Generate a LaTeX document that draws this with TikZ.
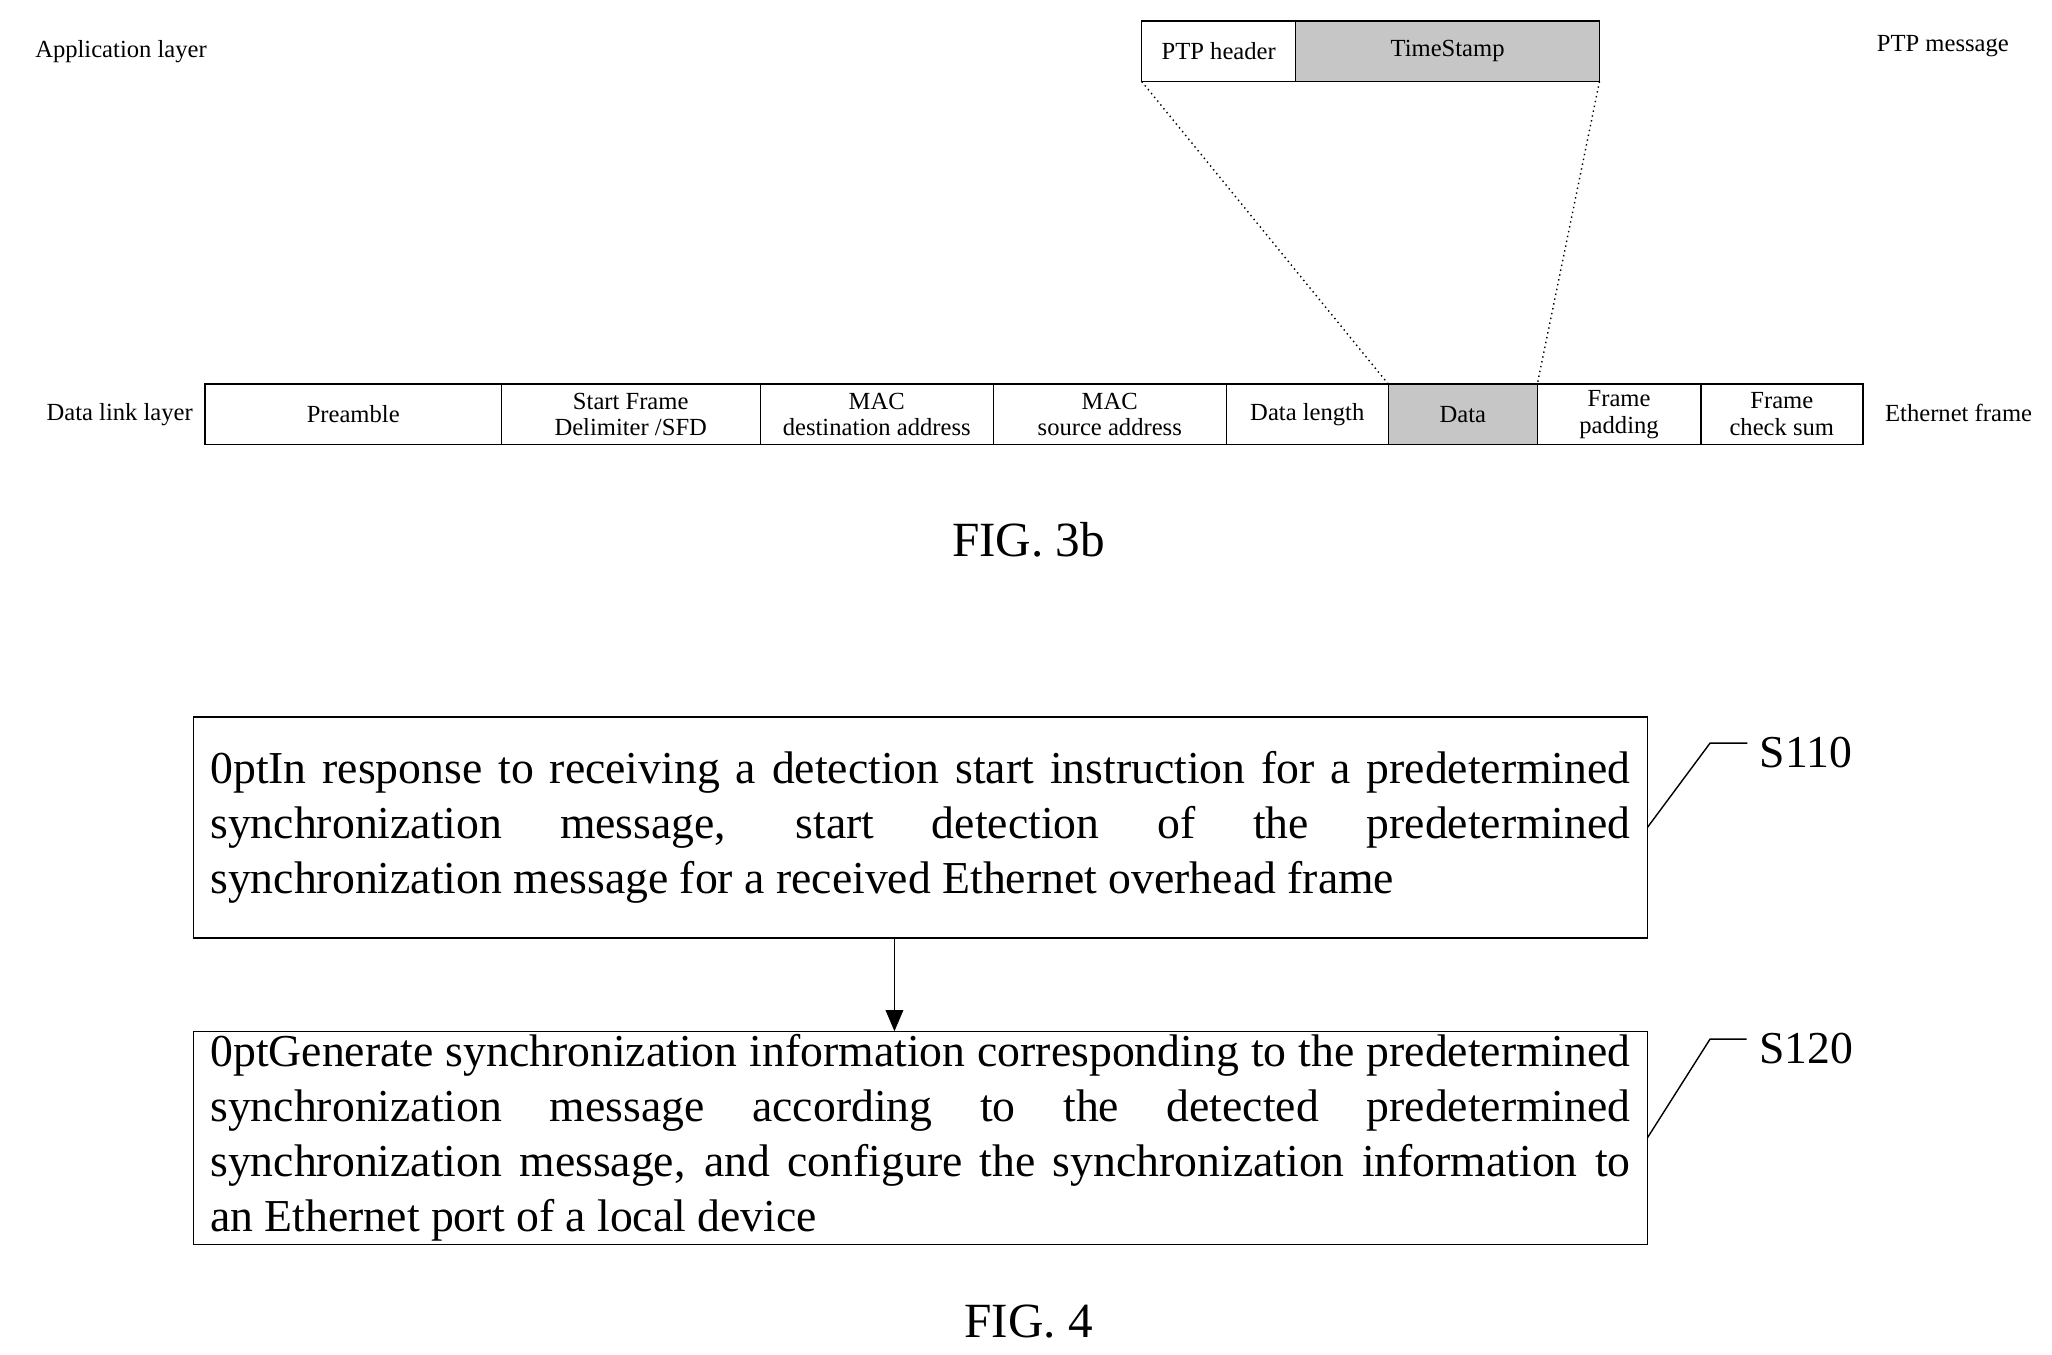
\documentclass[tikz,border=0pt]{standalone}
\usepackage{fontspec}
\setmainfont{Liberation Serif}
\usetikzlibrary{positioning,arrows.meta}
\begin{document}
\begin{tikzpicture}[x=0.01315cm,y=-0.01315cm]
    \tikzstyle{field} = [rectangle, draw, inner sep=0pt, outer sep=0pt,
    minimum height=0.605cm, align=center,
    font=\fontsize{7}{7.6}\selectfont]
    \tikzstyle{shaded} = [field, fill=gray!45]
    \tikzstyle{tag} = [font=\fontsize{7}{8}\selectfont]
    \tikzstyle{stepbox} = [rectangle, draw, inner sep=0pt, outer sep=0pt,
    minimum width=14.54cm, text width=14.2cm, align=justify,
    font=\fontsize{13}{15.6}\selectfont\hyphenpenalty=10000]
    \tikzstyle{line} = [draw, -{Triangle[length=6pt,width=5pt]}]

    \useasboundingbox (0,0) rectangle (1560,1030);

    % application layer
    \node[tag] (app) at (92,39) {Application layer};
    \node[field, anchor=north west, minimum width=1.539cm] (hdr) at (868,16) {PTP header};
    \node[shaded, right=0pt of hdr, minimum width=3.038cm] (ts) {TimeStamp};
    \node[tag] (msg) at (1477,35) {PTP message};

    % data link layer
    \node[tag] (dll) at (91,315) {Data link layer};
    \node[field, anchor=north west, minimum width=2.96cm] (pre) at (156,292) {Preamble};
    \node[field, right=0pt of pre, minimum width=2.59cm] (sfd) {Start Frame\\Delimiter /SFD};
    \node[field, right=0pt of sfd, minimum width=2.33cm] (dst) {MAC\\destination address};
    \node[field, right=0pt of dst, minimum width=2.33cm] (src) {MAC\\source address};
    \node[field, right=0pt of src, minimum width=1.62cm] (len) {Data length};
    \node[shaded, right=0pt of len, minimum width=1.49cm] (data) {Data};
    \node[field, right=0pt of data, minimum width=1.635cm] (pad) {Frame\\padding};
    \node[field, right=0pt of pad, minimum width=1.62cm] (fcs) {Frame\\check sum};
    \node[tag] (eth) at (1489,314) {Ethernet frame};

    \draw[densely dotted] (hdr.south west) -- (data.north west);
    \draw[densely dotted] (ts.south east) -- (data.north east);

    \node[font=\fontsize{14}{16}\selectfont] (fig3) at (782,410) {FIG. 3b};

    % flow
    \node[stepbox, anchor=north west, minimum height=2.21cm] (s1) at (147,545)
    {In response to receiving a detection start instruction for a predetermined\linebreak
    synchronization message, start detection of the predetermined\linebreak
    synchronization message for a received Ethernet overhead frame};
    \node[stepbox, anchor=north west, minimum height=2.13cm] (s2) at (147,784)
    {Generate synchronization information corresponding to the predetermined\linebreak
    synchronization message according to the detected predetermined\linebreak
    synchronization message, and configure the synchronization information to\linebreak
    an Ethernet port of a local device};
    \path[line] (s1.south -| 680,0) -- (s2.north -| 680,0);

    \node[font=\fontsize{13}{15}\selectfont] (l1) at (1373,572) {S110};
    \node[font=\fontsize{13}{15}\selectfont] (l2) at (1373,797) {S120};
    \coordinate (k1) at (1300,565);
    \coordinate (k2) at (1300,790);
    \draw (s1.east) -- (k1) -- (l1.west |- k1);
    \draw (s2.east) -- (k2) -- (l2.west |- k2);

    \node[font=\fontsize{14}{16}\selectfont] (fig4) at (782,1005) {FIG. 4};
\end{tikzpicture}
\end{document}
